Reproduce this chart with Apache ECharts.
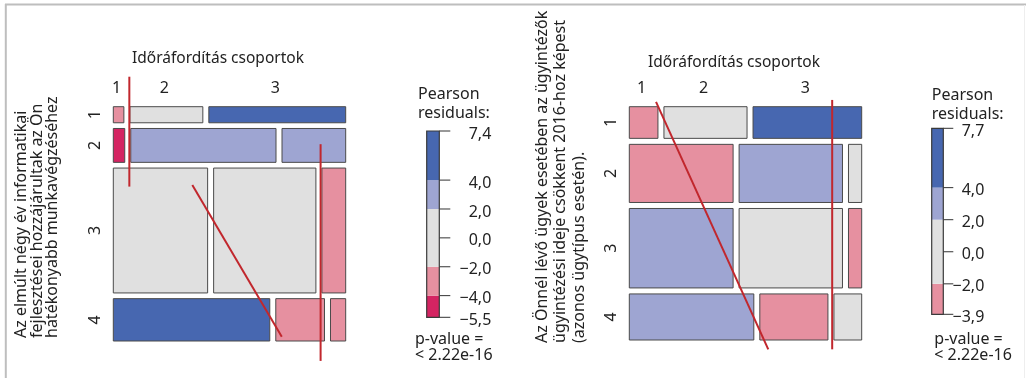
<!DOCTYPE html>
<html>
<head>
<meta charset="utf-8">
<script src="https://cdn.jsdelivr.net/npm/echarts@6/dist/echarts.min.js"></script>
<style>
html, body { margin: 0; padding: 0; background: #ffffff; }
#chart { width: 1026px; height: 378px; }
</style>
</head>
<body>
<div id="chart"></div>
<script>
// ---- categories ----
const colLabels = ['1', '2', '3'];
const rowLabels = ['1', '2', '3', '4'];
const xTitle = 'Időráfordítás csoportok';
const legendHead = ['Pearson', 'residuals:'];
const pValueText = ['p-value =', '< 2.22e-16'];

// ---- panel A: IT developments ----
// share of each row (%), then the column split inside each row (%)
const leftRowPct = [7.4, 15.6, 57.5, 19.5];
const leftColPct = [
  [4.8, 33.1, 62.1],
  [5.2, 65.9, 28.9],
  [42.8, 46.4, 10.8],
  [71.0, 22.1, 6.9]
];
// Pearson residual of each cell
const leftResid = [
  [-2.4, 0.8, 5.9],
  [-5.5, 3.2, 2.5],
  [0.9, 1.1, -3.3],
  [7.4, -3.0, -2.6]
];
const leftTicks = [7.4, 4, 2, 0, -2, -4, -5.5];
const leftTitle = ['Az elmúlt négy év informatikai', 'fejlesztései hozzájárultak az Ön', 'hatékonyabb munkavégzéséhez'];

// ---- panel B: processing time ----
const rightRowPct = [14.7, 27.0, 36.9, 21.4];
const rightColPct = [
  [13.0, 37.7, 49.3],
  [47.1, 46.9, 6.0],
  [47.1, 46.9, 6.0],
  [56.5, 30.9, 12.6]
];
const rightResid = [
  [-2.6, 0.4, 7.7],
  [-3.9, 3.3, 0.9],
  [2.7, -1.3, -3.0],
  [3.1, -3.4, -0.7]
];
const rightTicks = [7.7, 4, 2, 0, -2, -3.9];
const rightTitle = ['Az Önnél lévő ügyek esetében az ügyintézők', 'ügyintézési ideje csökkent 2016-hoz képest', '(azonos ügytípus esetén).'];

// red pen strokes over each mosaic, in mosaic units (0..1 across, 0..1 down)
const leftStrokes = [
  [[0.069, -0.128], [0.069, 0.341]],
  [[0.340, 0.334], [0.725, 0.982]],
  [[0.892, 0.160], [0.892, 1.085]]
];
const rightStrokes = [
  [[0.115, -0.021], [0.598, 1.040]],
  [[0.873, -0.029], [0.873, 1.040]]
];

// ---- styling ----
const FONT = '"Noto Sans", "DejaVu Sans", sans-serif';
const TXT = '#222222';
const RED = '#C1272D';
const SHADE_BREAKS = [-Infinity, -4, -2, 2, 4, Infinity];

function shade(r) {
  if (r > 4) return '#4767B0';
  if (r > 2) return '#9EA5D2';
  if (r >= -2) return '#E0E0E0';
  if (r >= -4) return '#E690A0';
  return '#D42462';
}
const sum = a => a.reduce((s, v) => s + v, 0);

// mosaic tiles: rows stacked top-down, columns split within each row
function mosaic(rowPct, colPct, resid, gx, gy) {
  const tiles = [];
  const availY = 1 - gy * (rowPct.length - 1);
  const totR = sum(rowPct);
  let y = 0;
  rowPct.forEach((rp, i) => {
    const h = rp / totR * availY;
    const cols = colPct[i];
    const availX = 1 - gx * (cols.length - 1);
    const totC = sum(cols);
    let x = 0;
    cols.forEach((cp, j) => {
      const w = cp / totC * availX;
      tiles.push([x, x + w, y, y + h, resid[i][j], i, j]);
      x += w + gx;
    });
    y += h + gy;
  });
  return tiles;
}

function textEl(x, y, text, align, vAlign, rotation, size) {
  return {
    type: 'text', x: x, y: y, rotation: rotation || 0,
    style: {
      text: text, fill: TXT, fontSize: size || 16, fontFamily: FONT,
      align: align, verticalAlign: vAlign, textAlign: align, textVerticalAlign: vAlign
    }
  };
}

const chart = echarts.init(document.getElementById('chart'), null, { renderer: 'canvas' });

const grids = [];
const xAxes = [];
const yAxes = [];
const series = [];
const graphics = [];

function addPanel(cfg) {
  const g = grids.length;
  // mosaic grid
  grids.push({ left: cfg.box[0], top: cfg.box[1], width: cfg.box[2], height: cfg.box[3] });
  xAxes.push({ gridIndex: g, type: 'value', min: 0, max: 1, show: false });
  yAxes.push({ gridIndex: g, type: 'value', min: 0, max: 1, inverse: true, show: false });

  const tiles = mosaic(cfg.rowPct, cfg.colPct, cfg.resid, cfg.gap[0] / cfg.box[2], cfg.gap[1] / cfg.box[3]);

  series.push({
    type: 'custom', xAxisIndex: g, yAxisIndex: g, silent: true, clip: false,
    data: tiles,
    renderItem: (params, api) => {
      const p0 = api.coord([api.value(0), api.value(2)]);
      const p1 = api.coord([api.value(1), api.value(3)]);
      return {
        type: 'rect',
        shape: { x: p0[0], y: p0[1], width: p1[0] - p0[0], height: p1[1] - p0[1] },
        style: { fill: shade(api.value(4)), stroke: '#4a4a4a', lineWidth: 1 }
      };
    }
  });

  // column labels above the first row, row labels on the left
  const firstRow = tiles.filter(t => t[5] === 0);
  const colPos = firstRow.map(t => [(t[0] + t[1]) / 2, 0]);
  series.push({
    type: 'custom', xAxisIndex: g, yAxisIndex: g, silent: true, clip: false,
    data: colPos,
    renderItem: (params, api) => {
      const p = api.coord([api.value(0), api.value(1)]);
      return textEl(p[0] - 2, p[1] - 18, colLabels[params.dataIndex], 'center', 'middle');
    }
  });
  const rowPos = cfg.rowPct.map((_, i) => {
    const t = tiles.find(tt => tt[5] === i);
    return [0, (t[2] + t[3]) / 2];
  });
  series.push({
    type: 'custom', xAxisIndex: g, yAxisIndex: g, silent: true, clip: false,
    data: rowPos,
    renderItem: (params, api) => {
      const p = api.coord([api.value(0), api.value(1)]);
      return textEl(p[0] - 18, p[1], rowLabels[params.dataIndex], 'center', 'middle', Math.PI / 2);
    }
  });

  // red pen strokes
  cfg.strokes.forEach(s => {
    series.push({
      type: 'line', xAxisIndex: g, yAxisIndex: g, data: s, clip: false, silent: true,
      showSymbol: false, symbol: 'none', z: 10, animation: false,
      lineStyle: { color: RED, width: 2 }
    });
  });

  // residual colour key
  const k = grids.length;
  const tMax = cfg.ticks[0];
  const tMin = cfg.ticks[cfg.ticks.length - 1];
  grids.push({ left: cfg.key[0], top: cfg.key[1], width: cfg.key[2], height: cfg.key[3] });
  xAxes.push({ gridIndex: k, type: 'value', min: 0, max: 1, show: false });
  yAxes.push({ gridIndex: k, type: 'value', min: tMin, max: tMax, show: false });

  const bands = [];
  for (let b = 0; b < SHADE_BREAKS.length - 1; b++) {
    const lo = Math.max(SHADE_BREAKS[b], tMin);
    const hi = Math.min(SHADE_BREAKS[b + 1], tMax);
    if (hi > lo) bands.push([lo, hi, (lo + hi) / 2]);
  }
  series.push({
    type: 'custom', xAxisIndex: k, yAxisIndex: k, silent: true,
    data: bands,
    renderItem: (params, api) => {
      const p0 = api.coord([0, api.value(1)]);
      const p1 = api.coord([1, api.value(0)]);
      return {
        type: 'rect',
        shape: { x: p0[0], y: p0[1], width: p1[0] - p0[0], height: p1[1] - p0[1] },
        style: { fill: shade(api.value(2)) }
      };
    }
  });
  series.push({
    type: 'custom', xAxisIndex: k, yAxisIndex: k, silent: true, z: 3,
    data: [[tMin, tMax]],
    renderItem: (params, api) => {
      const p0 = api.coord([0, api.value(1)]);
      const p1 = api.coord([1, api.value(0)]);
      return {
        type: 'rect',
        shape: { x: p0[0], y: p0[1], width: p1[0] - p0[0], height: p1[1] - p0[1] },
        style: { fill: 'none', stroke: '#3a3a3a', lineWidth: 1.2 }
      };
    }
  });
  series.push({
    type: 'custom', xAxisIndex: k, yAxisIndex: k, silent: true, clip: false,
    data: cfg.ticks.map(v => [1, v]),
    renderItem: (params, api) => {
      const v = api.value(1);
      const p = api.coord([1, v]);
      const label = v.toFixed(1).replace('.', ',').replace('-', '\u2212');
      return {
        type: 'group',
        children: [
          { type: 'line', shape: { x1: p[0], y1: p[1], x2: p[0] + cfg.tickLen, y2: p[1] },
            style: { stroke: '#333333', lineWidth: 1 } },
          textEl(p[0] + cfg.labelOff, p[1] + 3, label, 'right', 'middle')
        ]
      };
    }
  });

  // titles and captions
  graphics.push(textEl(cfg.xTitlePos[0], cfg.xTitlePos[1], xTitle, 'center', 'middle', 0, 15.5));
  cfg.yTitle.forEach((line, i) => {
    graphics.push(textEl(cfg.yTitleX[i], cfg.yTitleBottom, line, 'left', 'middle', Math.PI / 2));
  });
  legendHead.forEach((line, i) => {
    graphics.push(textEl(cfg.headPos[0], cfg.headPos[1] + i * 19, line, 'left', 'middle'));
  });
  pValueText.forEach((line, i) => {
    graphics.push(textEl(cfg.pPos[0], cfg.pPos[1] + i * 16.5, line, 'left', 'middle'));
  });
}

addPanel({
  box: [113.3, 106.7, 232.4, 234.3], gap: [6, 5.7],
  rowPct: leftRowPct, colPct: leftColPct, resid: leftResid, strokes: leftStrokes,
  key: [426.7, 131, 12.6, 186.3], ticks: leftTicks, tickLen: 11, labelOff: 52,
  xTitlePos: [218, 58.3], yTitle: leftTitle, yTitleX: [21.7, 37.3, 52.3], yTitleBottom: 338,
  headPos: [418, 94], pPos: [415, 339.3]
});
addPanel({
  box: [629.3, 106.7, 232.4, 233.3], gap: [6, 6],
  rowPct: rightRowPct, colPct: rightColPct, resid: rightResid, strokes: rightStrokes,
  key: [931.7, 128.3, 11.6, 186], ticks: rightTicks, tickLen: 10, labelOff: 41,
  xTitlePos: [734, 62.3], yTitle: rightTitle, yTitleX: [542.3, 560, 579], yTitleBottom: 343,
  headPos: [931.7, 95], pPos: [934.3, 339]
});

// page frame
graphics.push({ type: 'line', shape: { x1: 5, y1: 4.5, x2: 1026, y2: 4.5 }, style: { stroke: '#BEBEBE', lineWidth: 2 } });
graphics.push({ type: 'line', shape: { x1: 5.8, y1: 4, x2: 5.8, y2: 378 }, style: { stroke: '#BEBEBE', lineWidth: 2 } });
graphics.push({ type: 'line', shape: { x1: 1024.5, y1: 5, x2: 1024.5, y2: 378 }, style: { stroke: '#EEEEEE', lineWidth: 1 } });

chart.setOption({
  animation: false,
  backgroundColor: '#ffffff',
  grid: grids,
  xAxis: xAxes,
  yAxis: yAxes,
  series: series,
  graphic: { elements: graphics }
});
</script>
</body>
</html>
